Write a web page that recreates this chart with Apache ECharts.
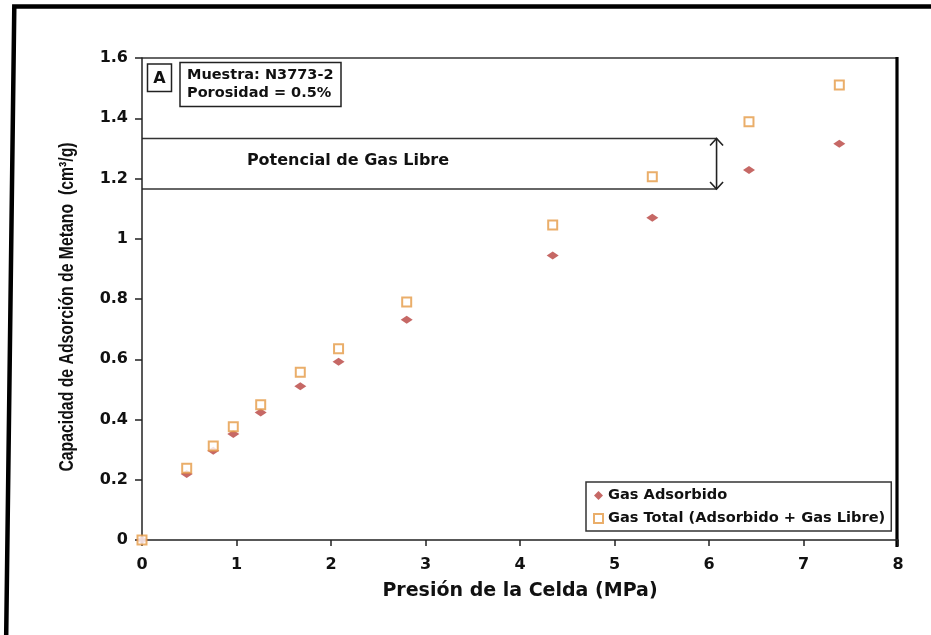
<!DOCTYPE html>
<html>
<head>
<meta charset="utf-8">
<script src="https://cdn.jsdelivr.net/npm/echarts@6/dist/echarts.min.js"></script>
<style>
  html, body { margin: 0; padding: 0; background: #fff; }
  #chart { width: 931px; height: 635px; }
</style>
</head>
<body>
<div id="chart"></div>
<script>
// Cell pressure (MPa) for each measurement step
const pressure = [0, 0.473, 0.754, 0.966, 1.256, 1.675, 2.08, 2.801, 4.346, 5.40, 6.423, 7.379];
// Adsorbed methane (cm3/g)
const adsorbed = [0, 0.219, 0.296, 0.352, 0.423, 0.510, 0.592, 0.731, 0.944, 1.070, 1.228, 1.315];
// Total gas = adsorbed + free gas (cm3/g)
const totalGas = [0, 0.238, 0.312, 0.376, 0.449, 0.557, 0.635, 0.790, 1.046, 1.206, 1.388, 1.510];

const seriesNames = ['Gas Adsorbido', 'Gas Total (Adsorbido + Gas Libre)'];
// Free-gas potential band (y limits) and where its bracket ends on the x axis
const freeGasBand = [1.165, 1.333];
const freeGasBandEndX = 6.08;
const sampleInfo = ['Muestra: N3773-2', 'Porosidad = 0.5%'];

const BOLD = 'DejaVu Sans';
const INK = '#111';

const chart = echarts.init(document.getElementById('chart'), null, { renderer: 'canvas' });

const toPairs = (xs, ys) => xs.map((x, i) => [x, ys[i]]);

chart.setOption({
  backgroundColor: '#fff',
  animation: false,
  grid: { left: 142, right: 33, top: 58, bottom: 95, containLabel: false },
  xAxis: {
    type: 'value', min: 0, max: 8, interval: 1,
    name: 'Presión de la Celda (MPa)', nameLocation: 'middle', nameGap: 42,
    nameTextStyle: { fontFamily: BOLD, fontWeight: 'bold', fontSize: 19, color: INK },
    axisLine: { show: true, onZero: false, lineStyle: { color: '#222', width: 1.5 } },
    axisTick: { show: true, inside: false, length: 6, lineStyle: { color: '#222', width: 1.5 } },
    axisLabel: { margin: 17, fontFamily: BOLD, fontWeight: 'bold', fontSize: 16, color: INK },
    splitLine: { show: false }
  },
  yAxis: {
    type: 'value', min: 0, max: 1.6, interval: 0.2,
    axisLine: { show: true, onZero: false, lineStyle: { color: '#222', width: 1.5 } },
    axisTick: { show: true, inside: false, length: 7, lineStyle: { color: '#222', width: 1.5 } },
    axisLabel: { margin: 14, fontFamily: BOLD, fontWeight: 'bold', fontSize: 16, color: INK },
    splitLine: { show: false }
  },
  legend: {
    orient: 'vertical',
    left: 586, top: 482,
    padding: [6, 6, 5, 7],
    itemGap: 8,
    itemWidth: 9, itemHeight: 9,
    borderColor: '#333', borderWidth: 1.5,
    backgroundColor: '#fff',
    textStyle: { fontFamily: BOLD, fontWeight: 'bold', fontSize: 14.6, color: INK, padding: [1, 0, 0, 0] },
    data: [
      { name: seriesNames[0], icon: 'diamond' },
      { name: seriesNames[1], icon: 'rect' }
    ]
  },
  series: [
    {
      name: seriesNames[0],
      type: 'scatter',
      symbol: 'diamond',
      symbolSize: [12, 8],
      clip: false,
      itemStyle: { color: '#B8423F' },
      data: toPairs(pressure, adsorbed)
    },
    {
      name: seriesNames[1],
      type: 'scatter',
      symbol: 'rect',
      symbolSize: 9,
      clip: false,
      itemStyle: { color: '#fff', borderColor: '#E59A45', borderWidth: 2 },
      data: toPairs(pressure, totalGas)
    }
  ]
});

// Annotations placed through the chart's own coordinate system
function px(x, y) { return chart.convertToPixel({ xAxisIndex: 0, yAxisIndex: 0 }, [x, y]); }

const topLeft = px(0, 1.6), topRight = px(8, 1.6), bottomRight = px(8, 0);
const bandHi = px(0, freeGasBand[1]), bandLo = px(0, freeGasBand[0]);
const bandEndHi = px(freeGasBandEndX, freeGasBand[1]), bandEndLo = px(freeGasBandEndX, freeGasBand[0]);
const bandLabel = px(1.11, (freeGasBand[0] + freeGasBand[1]) / 2 + 0.01);
const ax = bandEndHi[0];
const chev = 6.5, chevH = 7;

const graphics = [
  // page frame
  { type: 'polyline', shape: { points: [[931, 6.5], [14.3, 6.5], [6.2, 635]] },
    style: { stroke: '#000', lineWidth: 4.5, fill: null } },
  // plot box: thin top edge, heavy right edge
  { type: 'line', shape: { x1: topLeft[0], y1: topLeft[1], x2: topRight[0], y2: topRight[1] },
    style: { stroke: '#333', lineWidth: 1.5 } },
  { type: 'line', shape: { x1: topRight[0] - 1, y1: topRight[1] - 1, x2: bottomRight[0] - 1, y2: bottomRight[1] + 7 },
    style: { stroke: '#000', lineWidth: 3.2 } },
  // free gas band
  { type: 'line', shape: { x1: bandHi[0], y1: bandHi[1], x2: bandEndHi[0], y2: bandEndHi[1] },
    style: { stroke: '#333', lineWidth: 1.6 } },
  { type: 'line', shape: { x1: bandLo[0], y1: bandLo[1], x2: bandEndLo[0], y2: bandEndLo[1] },
    style: { stroke: '#333', lineWidth: 1.6 } },
  { type: 'line', shape: { x1: ax, y1: bandEndHi[1], x2: ax, y2: bandEndLo[1] },
    style: { stroke: '#222', lineWidth: 1.6 } },
  { type: 'polyline', shape: { points: [[ax - chev, bandEndHi[1] + chevH], [ax, bandEndHi[1]], [ax + chev, bandEndHi[1] + chevH]] },
    style: { stroke: '#222', lineWidth: 1.6, fill: null } },
  { type: 'polyline', shape: { points: [[ax - chev, bandEndLo[1] - chevH], [ax, bandEndLo[1]], [ax + chev, bandEndLo[1] - chevH]] },
    style: { stroke: '#222', lineWidth: 1.6, fill: null } },
  { type: 'text', x: bandLabel[0], y: bandLabel[1],
    style: { text: 'Potencial de Gas Libre', fontFamily: BOLD, fontWeight: 'bold', fontSize: 16, fill: INK,
             textAlign: 'left', textVerticalAlign: 'middle' } },
  // panel tag and sample info boxes
  { type: 'rect', shape: { x: 147.5, y: 64, width: 24, height: 27.5 },
    style: { stroke: '#222', lineWidth: 1.5, fill: '#fff' } },
  { type: 'text', x: 159.5, y: 78.5,
    style: { text: 'A', fontFamily: BOLD, fontWeight: 'bold', fontSize: 16, fill: INK,
             textAlign: 'center', textVerticalAlign: 'middle' } },
  { type: 'rect', shape: { x: 180, y: 62.5, width: 161, height: 44 },
    style: { stroke: '#222', lineWidth: 1.5, fill: '#fff' } },
  { type: 'text', x: 187, y: 75.5,
    style: { text: sampleInfo[0], fontFamily: BOLD, fontWeight: 'bold', fontSize: 14.5, fill: INK,
             textAlign: 'left', textVerticalAlign: 'middle' } },
  { type: 'text', x: 187, y: 93.5,
    style: { text: sampleInfo[1], fontFamily: BOLD, fontWeight: 'bold', fontSize: 14.5, fill: INK,
             textAlign: 'left', textVerticalAlign: 'middle' } },
  // y axis title, condensed bold
  { type: 'text', x: 67, y: 307, rotation: Math.PI / 2, scaleX: 0.79, scaleY: 1,
    style: { text: 'Capacidad de Adsorción de Metano  (cm³/g)', fontFamily: 'Liberation Sans', fontWeight: 'bold',
             fontSize: 20, fill: INK, textAlign: 'center', textVerticalAlign: 'middle' } }
];

chart.setOption({ graphic: graphics });
</script>
</body>
</html>
